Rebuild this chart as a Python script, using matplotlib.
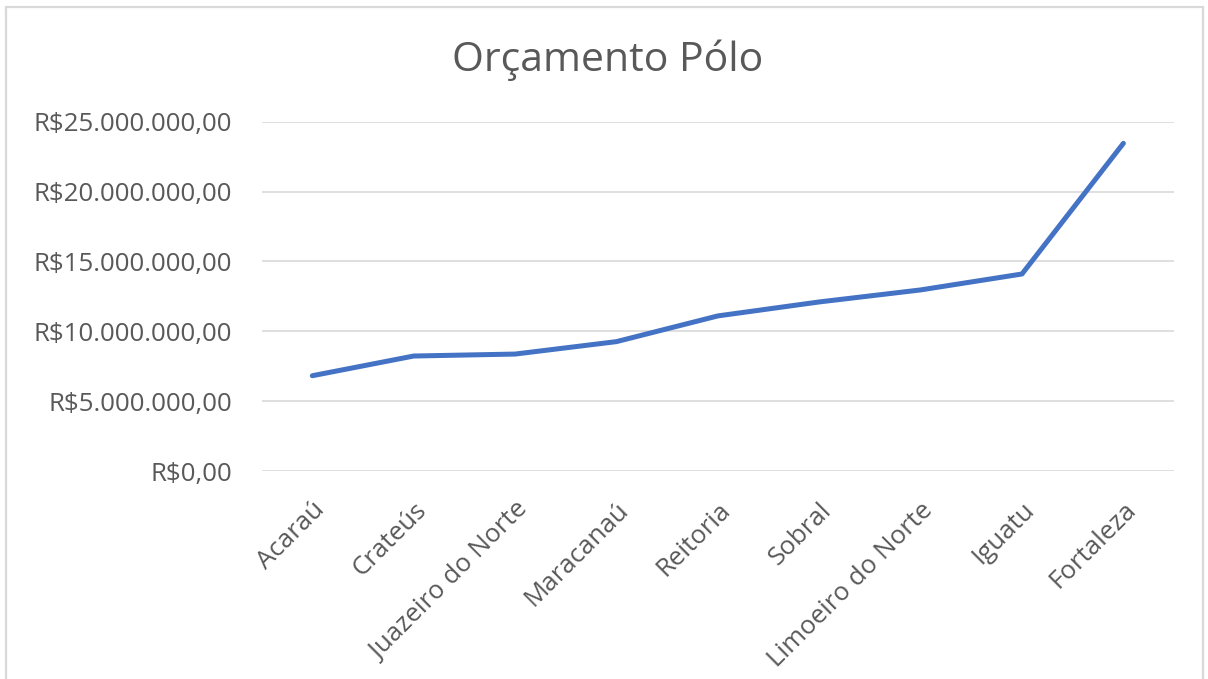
"""Orçamento Pólo - line chart in Excel style
"""

import matplotlib
matplotlib.use("Agg")
import matplotlib.pyplot as plt
from matplotlib.patches import Rectangle
from matplotlib.ticker import FuncFormatter

campi = ["Acaraú", "Crateús", "Juazeiro do Norte", "Maracanaú", "Reitoria",
         "Sobral", "Limoeiro do Norte", "Iguatu", "Fortaleza"]
orcamento = [6.82e6, 8.23e6, 8.37e6, 9.26e6, 11.1e6,
             12.1e6, 12.96e6, 14.1e6, 23.45e6]
y_ticks = [0, 5e6, 10e6, 15e6, 20e6, 25e6]

GREY = "#595959"


def brl(v, pos=None):
    s = f"{v:,.2f}"
    s = s.replace(",", "X").replace(".", ",").replace("X", ".")
    return "R$" + s


if __name__ == "__main__":
    plt.rcParams["font.family"] = ["Open Sans", "DejaVu Sans"]

    fig = plt.figure(figsize=(12.08, 6.79), dpi=100)
    fig.patches.append(Rectangle((6 / 1208, -0.05), 1197 / 1208, 1.05 - 7 / 679,
                                 transform=fig.transFigure, fill=False,
                                 edgecolor="#d9d9d9", linewidth=1.6))

    ax = fig.add_axes([0.2166, 0.3063, 0.7553, 0.5145])
    xs = list(range(len(campi)))
    ax.plot(xs, orcamento, color="#4472c4", linewidth=3.6,
            solid_capstyle="round", solid_joinstyle="round")

    ax.set_xlim(-0.5, len(campi) - 0.5)
    ax.set_ylim(0, 25e6)
    ax.set_yticks(y_ticks)
    ax.yaxis.set_major_formatter(FuncFormatter(brl))
    ax.set_xticks(xs)
    ax.set_xticklabels(campi, rotation=45, ha="right", va="top",
                       rotation_mode="anchor")

    ax.grid(axis="y", color="#d9d9d9", linewidth=1.2)
    ax.set_axisbelow(True)
    for sp in ax.spines.values():
        sp.set_visible(False)
    ax.tick_params(length=0, labelsize=18.6, colors=GREY)
    ax.tick_params(axis="y", pad=21)
    ax.tick_params(axis="x", pad=19)

    fig.text(0.503, 0.911, "Orçamento Pólo", ha="center", va="center",
             fontsize=29.5, color=GREY)

    fig.savefig("out.png", dpi=100)
